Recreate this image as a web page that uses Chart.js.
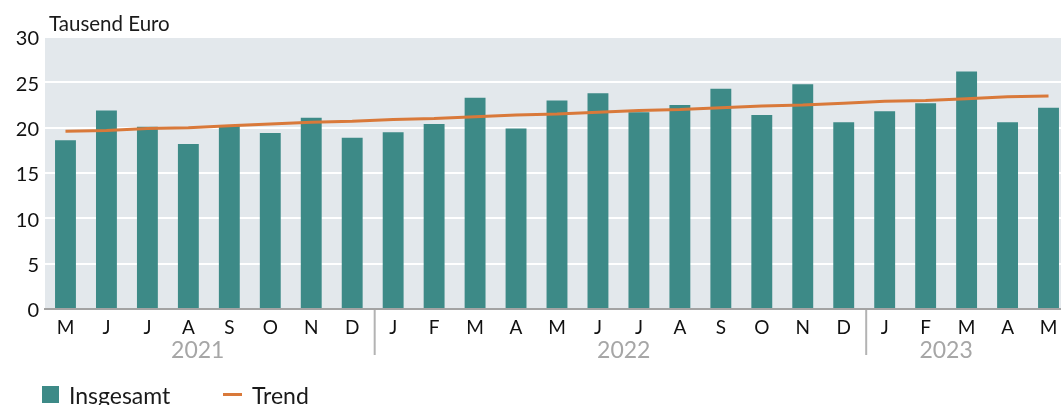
<!DOCTYPE html>
<html>
<head>
<meta charset="utf-8">
<script src="https://cdn.jsdelivr.net/npm/chart.js@4.4.1/dist/chart.umd.min.js"></script>
<style>
  html, body { margin: 0; padding: 0; background: #fff; }
  #wrap { width: 1061px; height: 405px; overflow: hidden; position: relative; }
  canvas { display: block; }
</style>
</head>
<body>
<div id="wrap"><canvas id="chart" width="1069" height="420"></canvas></div>
<script>
// Monate Mai 2021 bis Mai 2023
const months = ['M', 'J', 'J', 'A', 'S', 'O', 'N', 'D',
                'J', 'F', 'M', 'A', 'M', 'J', 'J', 'A', 'S', 'O', 'N', 'D',
                'J', 'F', 'M', 'A', 'M'];
const years = ['2021', '2022', '2023'];
const yearStart = [0, 8, 20];

// Tausend Euro
const insgesamt = [18.6, 21.9, 20.1, 18.2, 20.2, 19.4, 21.1, 18.9,
                   19.5, 20.4, 23.3, 19.9, 23.0, 23.8, 21.7, 22.5, 24.3, 21.4, 24.8, 20.6,
                   21.8, 22.7, 26.2, 20.6, 22.2];
const trend = [19.6, 19.7, 19.9, 20.0, 20.2, 20.4, 20.6, 20.7,
               20.9, 21.0, 21.2, 21.4, 21.5, 21.7, 21.9, 22.0, 22.2, 22.4, 22.5, 22.7,
               22.9, 23.0, 23.2, 23.4, 23.5];
const yTicks = [0, 5, 10, 15, 20, 25, 30];

const FONT = 'Lato, "Noto Sans", sans-serif';
const TEAL = '#3d8a87';
const ORANGE = '#d9793a';

// Hintergrund, Einheit, Jahre, Trennstriche und Legende
const decor = {
    id: 'decor',
    beforeDraw(chart) {
        const { ctx, chartArea: a } = chart;
        ctx.save();
        ctx.fillStyle = '#e3e8ec';
        ctx.fillRect(a.left, a.top, a.right - a.left, a.bottom - a.top);
        ctx.restore();
    },
    afterDraw(chart) {
        const { ctx, chartArea: a } = chart;
        const x = chart.scales.x;
        ctx.save();

        ctx.fillStyle = '#1a1a1a';
        ctx.font = '20.5px ' + FONT;
        ctx.textAlign = 'left';
        ctx.textBaseline = 'alphabetic';
        ctx.fillText('Tausend Euro', 49, 31);

        // Trennstriche zwischen den Jahren
        ctx.strokeStyle = '#b3b3b3';
        ctx.lineWidth = 2;
        yearStart.slice(1).forEach(i => {
            const sx = (x.getPixelForValue(i - 1) + x.getPixelForValue(i)) / 2 + 2;
            ctx.beginPath();
            ctx.moveTo(sx, a.bottom + 1);
            ctx.lineTo(sx, a.bottom + 46);
            ctx.stroke();
        });

        // Jahreszahlen
        const yearAt = [3.23, 13.63, 21.5];
        ctx.fillStyle = '#a6a6a6';
        ctx.font = '23px ' + FONT;
        ctx.textAlign = 'center';
        years.forEach((y, k) => {
            const px = x.getPixelForValue(Math.floor(yearAt[k])) +
                (yearAt[k] % 1) * (x.getPixelForValue(1) - x.getPixelForValue(0));
            ctx.fillText(y, px, 358);
        });

        // Legende
        ctx.fillStyle = TEAL;
        ctx.fillRect(42, 386, 17, 17);
        ctx.strokeStyle = ORANGE;
        ctx.lineWidth = 3;
        ctx.beginPath();
        ctx.moveTo(223, 394.5);
        ctx.lineTo(242, 394.5);
        ctx.stroke();
        ctx.fillStyle = '#1a1a1a';
        ctx.font = '23px ' + FONT;
        ctx.textAlign = 'left';
        ctx.fillText('Insgesamt', 69, 404);
        ctx.fillText('Trend', 252, 404);
        ctx.restore();
    }
};

new Chart(document.getElementById('chart'), {
    data: {
        labels: months,
        datasets: [
            {
                type: 'line',
                label: 'Trend',
                data: trend,
                borderColor: ORANGE,
                borderWidth: 3,
                pointRadius: 0,
                tension: 0,
                order: 0
            },
            {
                type: 'bar',
                label: 'Insgesamt',
                data: insgesamt,
                backgroundColor: TEAL,
                categoryPercentage: 1,
                barPercentage: 0.51,
                order: 1
            }
        ]
    },
    options: {
        responsive: false,
        animation: false,
        layout: { padding: { top: 37, left: 0, right: 0, bottom: 0 } },
        scales: {
            x: {
                grid: { display: false, drawTicks: false },
                border: { display: true, color: '#a3a3a3', width: 2 },
                ticks: {
                    autoSkip: false,
                    maxRotation: 0,
                    padding: 7,
                    color: '#111',
                    font: { family: FONT, size: 19 }
                },
                afterFit(scale) { scale.height = 111; }
            },
            y: {
                min: 0,
                max: 30,
                afterBuildTicks(scale) { scale.ticks = yTicks.map(v => ({ value: v })); },
                grid: { color: '#ffffff', lineWidth: 2, drawTicks: false },
                border: { display: false },
                ticks: {
                    padding: 6,
                    labelOffset: 2,
                    color: '#111',
                    font: { family: FONT, size: 20 }
                },
                afterFit(scale) { scale.width = 45; }
            }
        },
        plugins: {
            legend: { display: false },
            tooltip: { enabled: false }
        }
    },
    plugins: [decor]
});
</script>
</body>
</html>
